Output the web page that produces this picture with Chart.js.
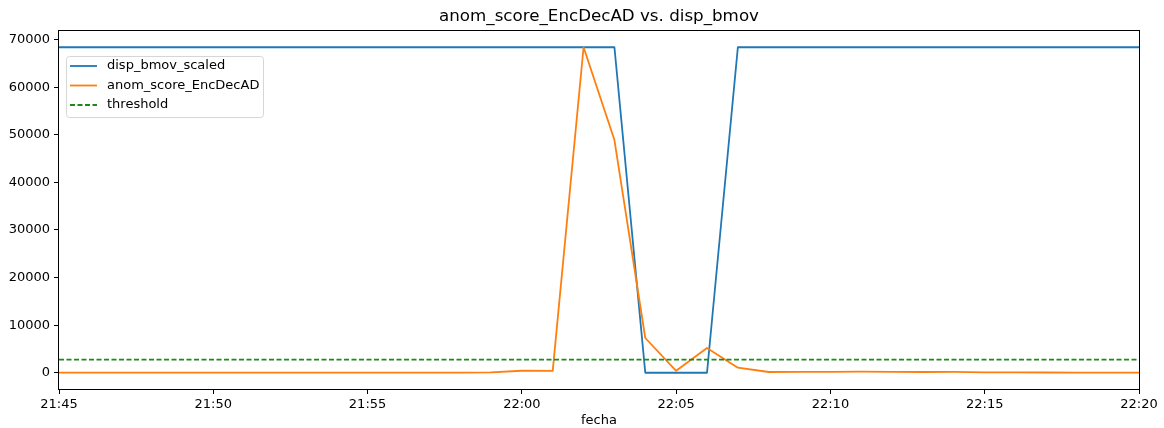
<!DOCTYPE html>
<html>
<head>
<meta charset="utf-8">
<script src="https://cdn.jsdelivr.net/npm/chart.js@4/dist/chart.umd.min.js"></script>
<style>
  body { margin: 0; background: #fff; }
  #wrap { position: relative; width: 1164px; height: 428px; }
</style>
</head>
<body>
<div id="wrap"><canvas id="grafico"></canvas></div>
<script>
// minutos de la serie (eje x)
const fecha = ['21:45', '21:46', '21:47', '21:48', '21:49', '21:50', '21:51', '21:52', '21:53',
    '21:54', '21:55', '21:56', '21:57', '21:58', '21:59', '22:00', '22:01', '22:02', '22:03',
    '22:04', '22:05', '22:06', '22:07', '22:08', '22:09', '22:10', '22:11', '22:12', '22:13',
    '22:14', '22:15', '22:16', '22:17', '22:18', '22:19', '22:20']

const dispBmovScaled = [68400, 68400, 68400, 68400, 68400, 68400, 68400, 68400, 68400,
    68400, 68400, 68400, 68400, 68400, 68400, 68400, 68400, 68400, 68400,
    0, 0, 0, 68400, 68400, 68400, 68400, 68400, 68400, 68400,
    68400, 68400, 68400, 68400, 68400, 68400, 68400]

const anomScore = [30, 30, 25, 30, 35, 30, 30, 25, 30,
    30, 35, 30, 30, 30, 60, 420, 400, 68400, 48900,
    7300, 400, 5200, 1050, 150, 180, 200, 230, 190, 150,
    170, 80, 60, 50, 40, 40, 30]

const threshold = 2750

const xTicks = ['21:45', '21:50', '21:55', '22:00', '22:05', '22:10', '22:15', '22:20']
const yTicks = [0, 10000, 20000, 30000, 40000, 50000, 60000, 70000]

const FONT = "'DejaVu Sans', sans-serif"

function aMinutos(hhmm) {
    let p = hhmm.split(':')
    return parseInt(p[0]) * 60 + parseInt(p[1])
}
function aHora(min) {
    let h = Math.floor(min / 60)
    let m = min % 60
    return h + ':' + (m < 10 ? '0' : '') + m
}

const xs = fecha.map(aMinutos)
const puntos = arr => arr.map((v, i) => ({x: xs[i], y: v}))

const series = [
    {label: 'disp_bmov_scaled', color: '#1f77b4', dash: []},
    {label: 'anom_score_EncDecAD', color: '#ff7f0e', dash: []},
    {label: 'threshold', color: '#1a8a1a', dash: [5, 2.5]}
]

// marco, titulo, etiqueta del eje y leyenda al estilo matplotlib
const decorado = {
    id: 'decorado',
    afterDraw(chart) {
        const ctx = chart.ctx
        const a = chart.chartArea
        ctx.save()
        ctx.strokeStyle = '#000'
        ctx.lineWidth = 1
        ctx.strokeRect(a.left - 0.5, a.top - 0.5, a.right - a.left + 1, a.bottom - a.top + 1)

        ctx.fillStyle = '#000'
        ctx.textAlign = 'center'
        ctx.textBaseline = 'middle'
        ctx.font = '16.7px ' + FONT
        ctx.fillText('anom_score_EncDecAD vs. disp_bmov', (a.left + a.right) / 2, 17)
        ctx.font = '13px ' + FONT
        ctx.fillText('fecha', (a.left + a.right) / 2, 421)

        // leyenda
        let bx = a.left + 7, by = a.top + 25, bw = 197, bh = 61
        ctx.beginPath()
        ctx.roundRect(bx + 0.5, by + 0.5, bw, bh, 3)
        ctx.fillStyle = 'rgba(255,255,255,0.8)'
        ctx.fill()
        ctx.strokeStyle = '#d6d6d6'
        ctx.stroke()
        ctx.textAlign = 'left'
        series.forEach((s, i) => {
            let y = by + 10 + i * 19.5
            ctx.beginPath()
            ctx.setLineDash(s.dash)
            ctx.strokeStyle = s.color
            ctx.lineWidth = 1.8
            ctx.moveTo(bx + 4, y)
            ctx.lineTo(bx + 31, y)
            ctx.stroke()
            ctx.setLineDash([])
            ctx.fillStyle = '#000'
            ctx.fillText(s.label, bx + 41, y)
        })
        ctx.restore()
    }
}

let config = {
    type: 'line',
    data: {
        datasets: [{
            label: series[0].label,
            data: puntos(dispBmovScaled),
            borderColor: series[0].color,
            borderWidth: 1.8,
            borderJoinStyle: 'round',
            pointRadius: 0,
            tension: 0,
            order: 3
        }, {
            label: series[1].label,
            data: puntos(anomScore),
            borderColor: series[1].color,
            borderWidth: 1.8,
            borderJoinStyle: 'round',
            pointRadius: 0,
            tension: 0,
            order: 2
        }, {
            label: series[2].label,
            data: puntos(fecha.map(() => threshold)),
            borderColor: series[2].color,
            borderWidth: 1.6,
            borderDash: series[2].dash,
            pointRadius: 0,
            order: 1
        }]
    },
    options: {
        responsive: true,
        maintainAspectRatio: false,
        animation: false,
        layout: {padding: {left: 0, top: 31, right: 25, bottom: 0}},
        plugins: {
            legend: {display: false},
            tooltip: {enabled: false}
        },
        scales: {
            x: {
                type: 'linear',
                min: aMinutos(xTicks[0]),
                max: aMinutos(xTicks[xTicks.length - 1]),
                afterBuildTicks: s => { s.ticks = xTicks.map(t => ({value: aMinutos(t)})) },
                afterFit: s => { s.height = 39 },
                grid: {drawOnChartArea: false, drawTicks: true, tickLength: 5, color: '#000'},
                border: {display: false},
                ticks: {
                    color: '#000',
                    padding: 3,
                    maxRotation: 0,
                    autoSkip: false,
                    font: {family: FONT, size: 13},
                    callback: v => aHora(v)
                }
            },
            y: {
                min: -3420,
                max: 71820,
                afterBuildTicks: s => { s.ticks = yTicks.map(v => ({value: v})) },
                afterFit: s => { s.width = 59 },
                grid: {drawOnChartArea: false, drawTicks: true, tickLength: 5, color: '#000'},
                border: {display: false},
                ticks: {
                    color: '#000',
                    padding: 4,
                    font: {family: FONT, size: 13},
                    callback: v => String(v)
                }
            }
        }
    },
    plugins: [decorado]
}

new Chart(document.getElementById('grafico'), config)
</script>
</body>
</html>
